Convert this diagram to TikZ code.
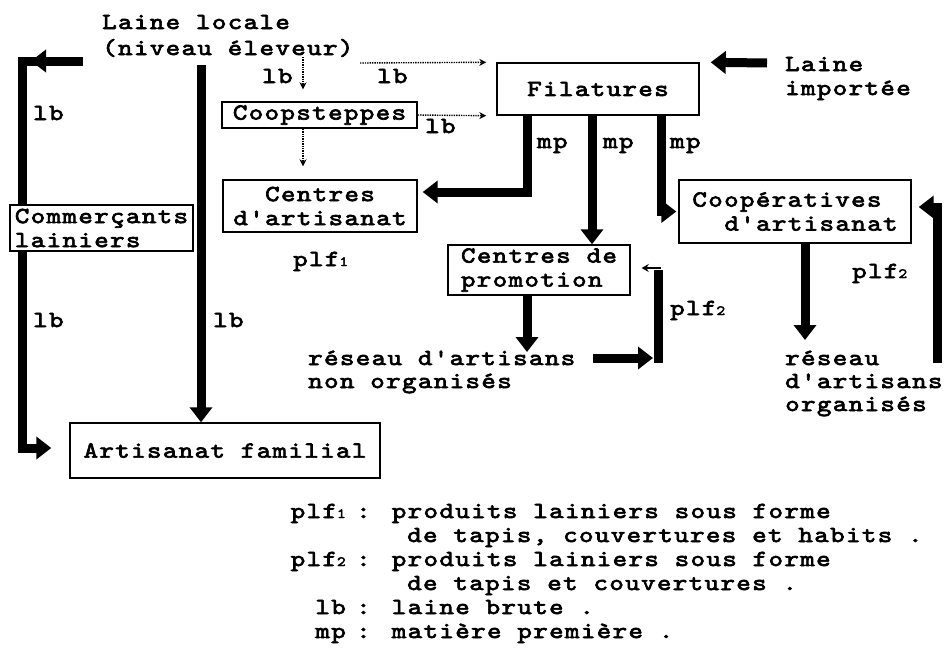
\documentclass[tikz,border=0pt]{standalone}
\usepackage{fontspec}
\usetikzlibrary{arrows.meta,calc}
\newfontfamily\dfont{lmmono10-regular.otf}[FakeStretch=1.2,LetterSpace=6,FakeBold=3]
\newcommand\lowd[1]{{\fontsize{14}{14}\selectfont #1}}
\begin{document}
\begin{tikzpicture}[x=1pt,y=-1pt,
  every node/.style={font={\dfont\fontsize{23}{24}\selectfont}},
  txt/.style={inner sep=0pt, anchor=base west},
  bx/.style={draw, line width=1.4pt, fill=white, inner sep=0pt, align=center},
  thk/.style={line width=9pt},
  thkar/.style={line width=9pt, -{Triangle[length=15pt,width=22pt]}},
  dotar/.style={line width=1.4pt, densely dotted, -{Stealth[length=7pt,width=7pt]}},
  thinar/.style={line width=1.5pt, -{Stealth[length=7pt,width=8pt]}}]
\useasboundingbox (0,0) rectangle (947,653);

% ---- boxes
\node[bx, minimum width=195pt, minimum height=26pt] (coop) at (319.5,115) {Coopsteppes};
\node[bx, minimum width=194pt, minimum height=52pt] (cart) at (320,206) {Centres\\d'artisanat};
\node[bx, minimum width=202pt, minimum height=52pt] (fil) at (598,89) {Filatures};
\node[bx, minimum width=232pt, minimum height=63pt, align=left] (coopart) at (795,211.5) {Coopératives\\\hspace*{32pt}d'artisanat};
\node[bx, minimum width=182pt, minimum height=50pt, align=left] (cprom) at (539,270) {Centres de\\promotion};
\node[bx, minimum width=310pt, minimum height=55pt] (artfam) at (225,450.5) {Artisanat familial};
\node[bx, minimum width=183pt, minimum height=46pt, align=left] (comm) at (101.5,228) {Commerçants\\lainiers};

% ---- texts
\node[txt] (ll1) at (102,29) {Laine locale};
\node[txt] (ll2) at (102,55) {(niveau éleveur)};
\node[txt] (li1) at (785,71) {Laine};
\node[txt] (li2) at (785,95) {importée};
\node[txt] (rn1) at (308,365) {réseau d'artisans};
\node[txt] (rn2) at (308,388) {non organisés};
\node[txt] (ro1) at (785,365) {réseau};
\node[txt] (ro2) at (785,388) {d'artisans};
\node[txt] (ro3) at (785,411) {organisés};

% ---- labels
\node[txt] (lb1) at (33,120) {lb};
\node[txt] (lb2) at (262,83) {lb};
\node[txt] (lb3) at (377,83) {lb};
\node[txt] (lb4) at (425,133) {lb};
\node[txt] (lb5) at (33,327) {lb};
\node[txt] (lb6) at (213,327) {lb};
\node[txt] (mp1) at (537,148) {mp};
\node[txt] (mp2) at (603,148) {mp};
\node[txt] (mp3) at (670,148) {mp};
\node[txt] (pa) at (293,266) {plf\lowd{1}};
\node[txt] (pb) at (670,315) {plf\lowd{2}};
\node[txt] (pc) at (852,278) {plf\lowd{2}};

% ---- legend
\node[txt, anchor=base east] (k1) at (346,518) {plf\lowd{1}};
\node[txt] (c1) at (356,518) {: produits lainiers sous forme};
\node[txt] (c1b) at (407,542) {de tapis, couvertures et habits .};
\node[txt, anchor=base east] (k2) at (346,566) {plf\lowd{2}};
\node[txt] (c2) at (356,566) {: produits lainiers sous forme};
\node[txt] (c2b) at (407,590) {de tapis et couvertures .};
\node[txt, anchor=base east] (k3) at (346,614) {lb};
\node[txt] (c3) at (356,614) {: laine brute .};
\node[txt, anchor=base east] (k4) at (346,638) {mp};
\node[txt] (c4) at (356,638) {: matière première .};

% ---- coordinates
\coordinate (ltop) at (83,61);
\coordinate (lx) at (22,61);
\coordinate (cx) at (201,65);
\coordinate (d1) at (303,57);
\coordinate (d2) at (360,63);
\coordinate (m1) at (527,115);
\coordinate (m2) at (592,115);
\coordinate (m3) at (661,115);
\coordinate (limp) at (767,63);
\coordinate (rnx) at (527,295);
\coordinate (lp1) at (593,358);
\coordinate (lp2) at (658,358);
\coordinate (lp3) at (658,270);
\coordinate (rb) at (937,363);

% ---- thick connectors
\draw[thk] (ltop) -- (lx) -- (comm.north -| lx);
\draw[thkar] (64,61) -- (31,61);
\draw[thkar] (comm.south -| lx) |- ($(artfam.west)+(-18,-2.5)$);
\draw[thkar] (cx) -- (cx |- artfam.north);
\draw[thkar] (m1) |- ($(cart.east)+(5,-14)$);
\draw[thkar] (m2) -- (m2 |- cprom.north);
\draw[thkar] (m3) |- ($(coopart.west)+(-2,0)$);
\draw[thkar] (limp) -- ($(fil.north east)+(11,0)$);
\draw[thkar] (rnx) -- (527,352);
\draw[thkar] (lp1) -- ($(lp2)+(-5,0)$);
\draw[thk] ($(lp2)+(0,4.5)$) -- (lp3);
\draw[thinar] ($(lp3)+(3,-2)$) -- ($(cprom.east)+(11,-2)$);
\draw[thkar] (coopart.south -| 805,0) -- (805,340);
\draw[thkar] (rb) |- ($(coopart.east)+(7,-4.5)$);

% ---- dotted connectors
\draw[dotar] (d1) -- ($(coop.north -| d1)+(0,-12)$);
\draw[dotar] (d2) -- ($(fil.north west)+(-10,0)$);
\draw[dotar] (coop.east) -- ($(fil.south west)+(-10,0)$);
\draw[dotar] (coop.south -| d1) -- ($(cart.north -| d1)+(0,-13)$);
\end{tikzpicture}
\end{document}
